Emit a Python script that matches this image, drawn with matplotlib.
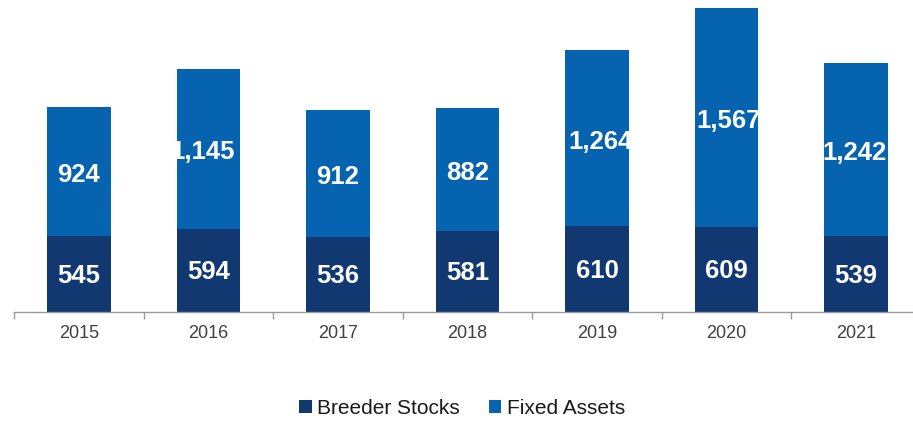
import matplotlib
matplotlib.use("Agg")
import matplotlib.pyplot as plt
from matplotlib.ticker import FixedLocator, NullLocator
import numpy as np

years = ["2015", "2016", "2017", "2018", "2019", "2020", "2021"]
breeder_stocks = [545, 594, 536, 581, 610, 609, 539]
fixed_assets = [924, 1145, 912, 882, 1264, 1567, 1242]
series_names = ["Breeder Stocks", "Fixed Assets"]

# small horizontal nudges (in pixels) of the top labels, as seen in the reference
top_label_nudge_px = [0, -6, 0, 0, 3, 2.5, -1]

plt.rcParams['font.family'] = ['Liberation Sans', 'DejaVu Sans']

navy = "#113871"
blue = "#0563AF"

fig = plt.figure(figsize=(9.13, 4.21), dpi=100)
ax = fig.add_axes([14.25 / 913, (421 - 311.5) / 421, 906.5 / 913, 311.5 / 421])

x = np.arange(len(years))
w = 0.494
b1 = ax.bar(x, breeder_stocks, width=w, color=navy, label=series_names[0], zorder=2)
b2 = ax.bar(x, fixed_assets, width=w, bottom=breeder_stocks, color=blue, label=series_names[1], zorder=2)

for xi, v1, v2, nd in zip(x, breeder_stocks, fixed_assets, top_label_nudge_px):
    ax.annotate(f"{v1:,}", xy=(xi, v1 / 2), xytext=(0, -1.5),
                textcoords="offset points", ha="center", va="center", color="white",
                fontsize=18.5, fontweight="bold", zorder=3)
    ax.annotate(f"{v2:,}", xy=(xi, v1 + v2 / 2), xytext=(nd * 0.72, -2.5),
                textcoords="offset points", ha="center", va="center", color="white",
                fontsize=18.5, fontweight="bold", zorder=3)

ax.set_xlim(-0.5, len(years) - 0.5)
ax.set_ylim(0, 2235)
for s in ["top", "right", "left"]:
    ax.spines[s].set_visible(False)
ax.spines["bottom"].set_color("#9a9a9a")
ax.spines["bottom"].set_linewidth(1.0)
ax.yaxis.set_major_locator(NullLocator())
ax.set_xticks(x)
ax.set_xticklabels(years, fontsize=13, color="#404040")
ax.tick_params(axis="x", which="major", length=0, pad=10)
ax.xaxis.set_minor_locator(FixedLocator(np.arange(-0.5, len(years), 1.0)))
ax.tick_params(axis="x", which="minor", length=5, color="#9a9a9a", width=1.0)

leg = fig.legend(handles=[b1, b2], labels=series_names, loc="center",
                 bbox_to_anchor=(462 / 913, 1 - 408 / 421), ncol=2, frameon=False,
                 fontsize=15, handlelength=0.6, handleheight=0.6, handletextpad=0.25,
                 columnspacing=1.4)
for t in leg.get_texts():
    t.set_color("#1a1a1a")

fig.savefig("out.png", dpi=100)
